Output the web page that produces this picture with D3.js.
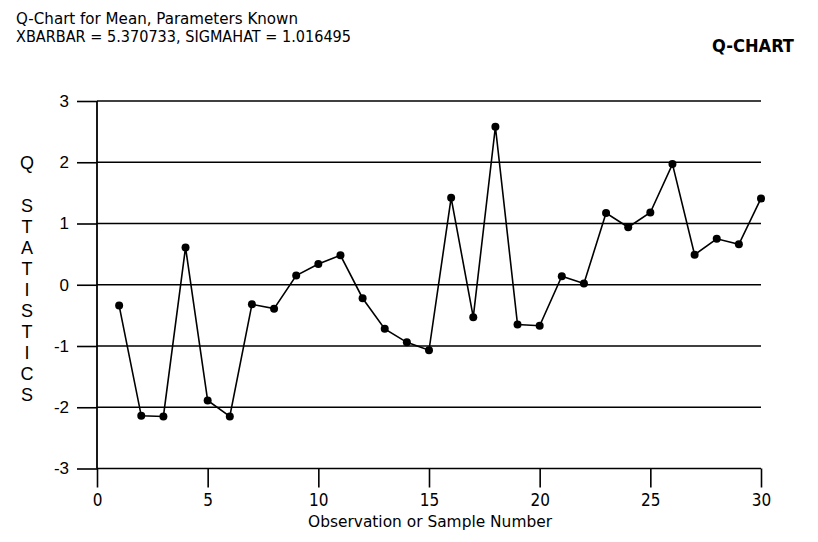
<!DOCTYPE html>
<html><head><meta charset="utf-8">
<script src="https://cdn.jsdelivr.net/npm/d3@7"></script>
<style>
html,body{margin:0;padding:0;background:#fff;}
svg{display:block;}
</style></head>
<body>
<script>
const titleLines = ["Q-Chart for Mean, Parameters Known", "XBARBAR = 5.370733, SIGMAHAT = 1.016495"];
const cornerLabel = "Q-CHART";
const xTitle = "Observation or Sample Number";
const yTitleHead = "Q";
const yTitleBody = "STATISTICS";
const observations = d3.range(1, 31);
const qValues = [-0.34, -2.14, -2.15, 0.61, -1.89, -2.15, -0.32, -0.39, 0.15, 0.34,
                 0.48, -0.22, -0.72, -0.94, -1.07, 1.42, -0.53, 2.58, -0.65, -0.67,
                 0.14, 0.02, 1.17, 0.94, 1.18, 1.97, 0.49, 0.75, 0.66, 1.41];
const xTicks = [0, 5, 10, 15, 20, 25, 30];
const yTicks = [-3, -2, -1, 0, 1, 2, 3];

const W = 818, H = 542;
const svg = d3.select("body").append("svg").attr("width", W).attr("height", H);
const x = d3.scaleLinear().domain([0, 30]).range([97, 761]);
const y = d3.scaleLinear().domain([-3, 3]).range([468.5, 101]);

const narrow = "'Liberation Sans Narrow','DejaVu Sans Condensed','Liberation Sans',sans-serif";
const regular = "'Liberation Sans',Arial,sans-serif";

// titles
svg.append("text").attr("x", 16).attr("y", 24).attr("font-family", narrow).attr("font-size", 15)
  .attr("textLength", 282).attr("lengthAdjust", "spacingAndGlyphs").text(titleLines[0]);
svg.append("text").attr("x", 16).attr("y", 42).attr("font-family", narrow).attr("font-size", 15)
  .attr("textLength", 335).attr("lengthAdjust", "spacingAndGlyphs").text(titleLines[1]);
svg.append("text").attr("x", 712).attr("y", 52).attr("font-family", narrow).attr("font-size", 18)
  .attr("font-weight", "bold").attr("textLength", 82).attr("lengthAdjust", "spacingAndGlyphs").text(cornerLabel);

// y ticks and labels
const yAxis = d3.axisLeft(y).tickValues(yTicks).tickSize(20).tickPadding(8).tickFormat(d => String(d));
const gy = svg.append("g").attr("transform", `translate(${x(0)},0)`).call(yAxis);
gy.select(".domain").remove();
gy.selectAll(".tick line").attr("stroke", "#000").attr("stroke-width", 1.6);
gy.selectAll(".tick text").attr("font-family", regular).attr("font-size", 17).attr("fill", "#000");
// horizontal gridlines
svg.append("g").selectAll("line").data(yTicks).join("line")
  .attr("x1", x(0)).attr("x2", x(30)).attr("y1", d => y(d)).attr("y2", d => y(d))
  .attr("stroke", "#000").attr("stroke-width", 1.6);

// x axis ticks and labels
const xAxis = d3.axisBottom(x).tickValues(xTicks).tickSize(19).tickPadding(6).tickFormat(d => String(d));
const gx = svg.append("g").attr("transform", `translate(0,${y(-3)})`).call(xAxis);
gx.select(".domain").remove();
gx.selectAll(".tick line").attr("stroke", "#000").attr("stroke-width", 1.6);
gx.selectAll(".tick text").attr("font-family", narrow).attr("font-size", 17).attr("fill", "#000");

// vertical y axis line
svg.append("line").attr("x1", x(0)).attr("x2", x(0)).attr("y1", y(3)).attr("y2", y(-3))
  .attr("stroke", "#000").attr("stroke-width", 1.8);

// axis titles
svg.append("text").attr("x", 430).attr("y", 527).attr("text-anchor", "middle")
  .attr("font-family", narrow).attr("font-size", 16)
  .attr("textLength", 244).attr("lengthAdjust", "spacingAndGlyphs").text(xTitle);
svg.append("text").attr("x", 27).attr("y", 162 + 7).attr("text-anchor", "middle")
  .attr("font-family", regular).attr("font-size", 18).text(yTitleHead);
svg.append("g").selectAll("text").data(yTitleBody.split("")).join("text")
  .attr("x", 27).attr("y", (d, i) => 205 + 21 * i + 7).attr("text-anchor", "middle")
  .attr("font-family", regular).attr("font-size", 18).text(d => d);

// series
const pts = observations.map((o, i) => [o, qValues[i]]);
svg.append("path").datum(pts)
  .attr("d", d3.line().x(d => x(d[0])).y(d => y(d[1])))
  .attr("fill", "none").attr("stroke", "#000").attr("stroke-width", 1.6);
svg.append("g").selectAll("circle").data(pts).join("circle")
  .attr("cx", d => x(d[0])).attr("cy", d => y(d[1])).attr("r", 4).attr("fill", "#000");
</script>
</body></html>
